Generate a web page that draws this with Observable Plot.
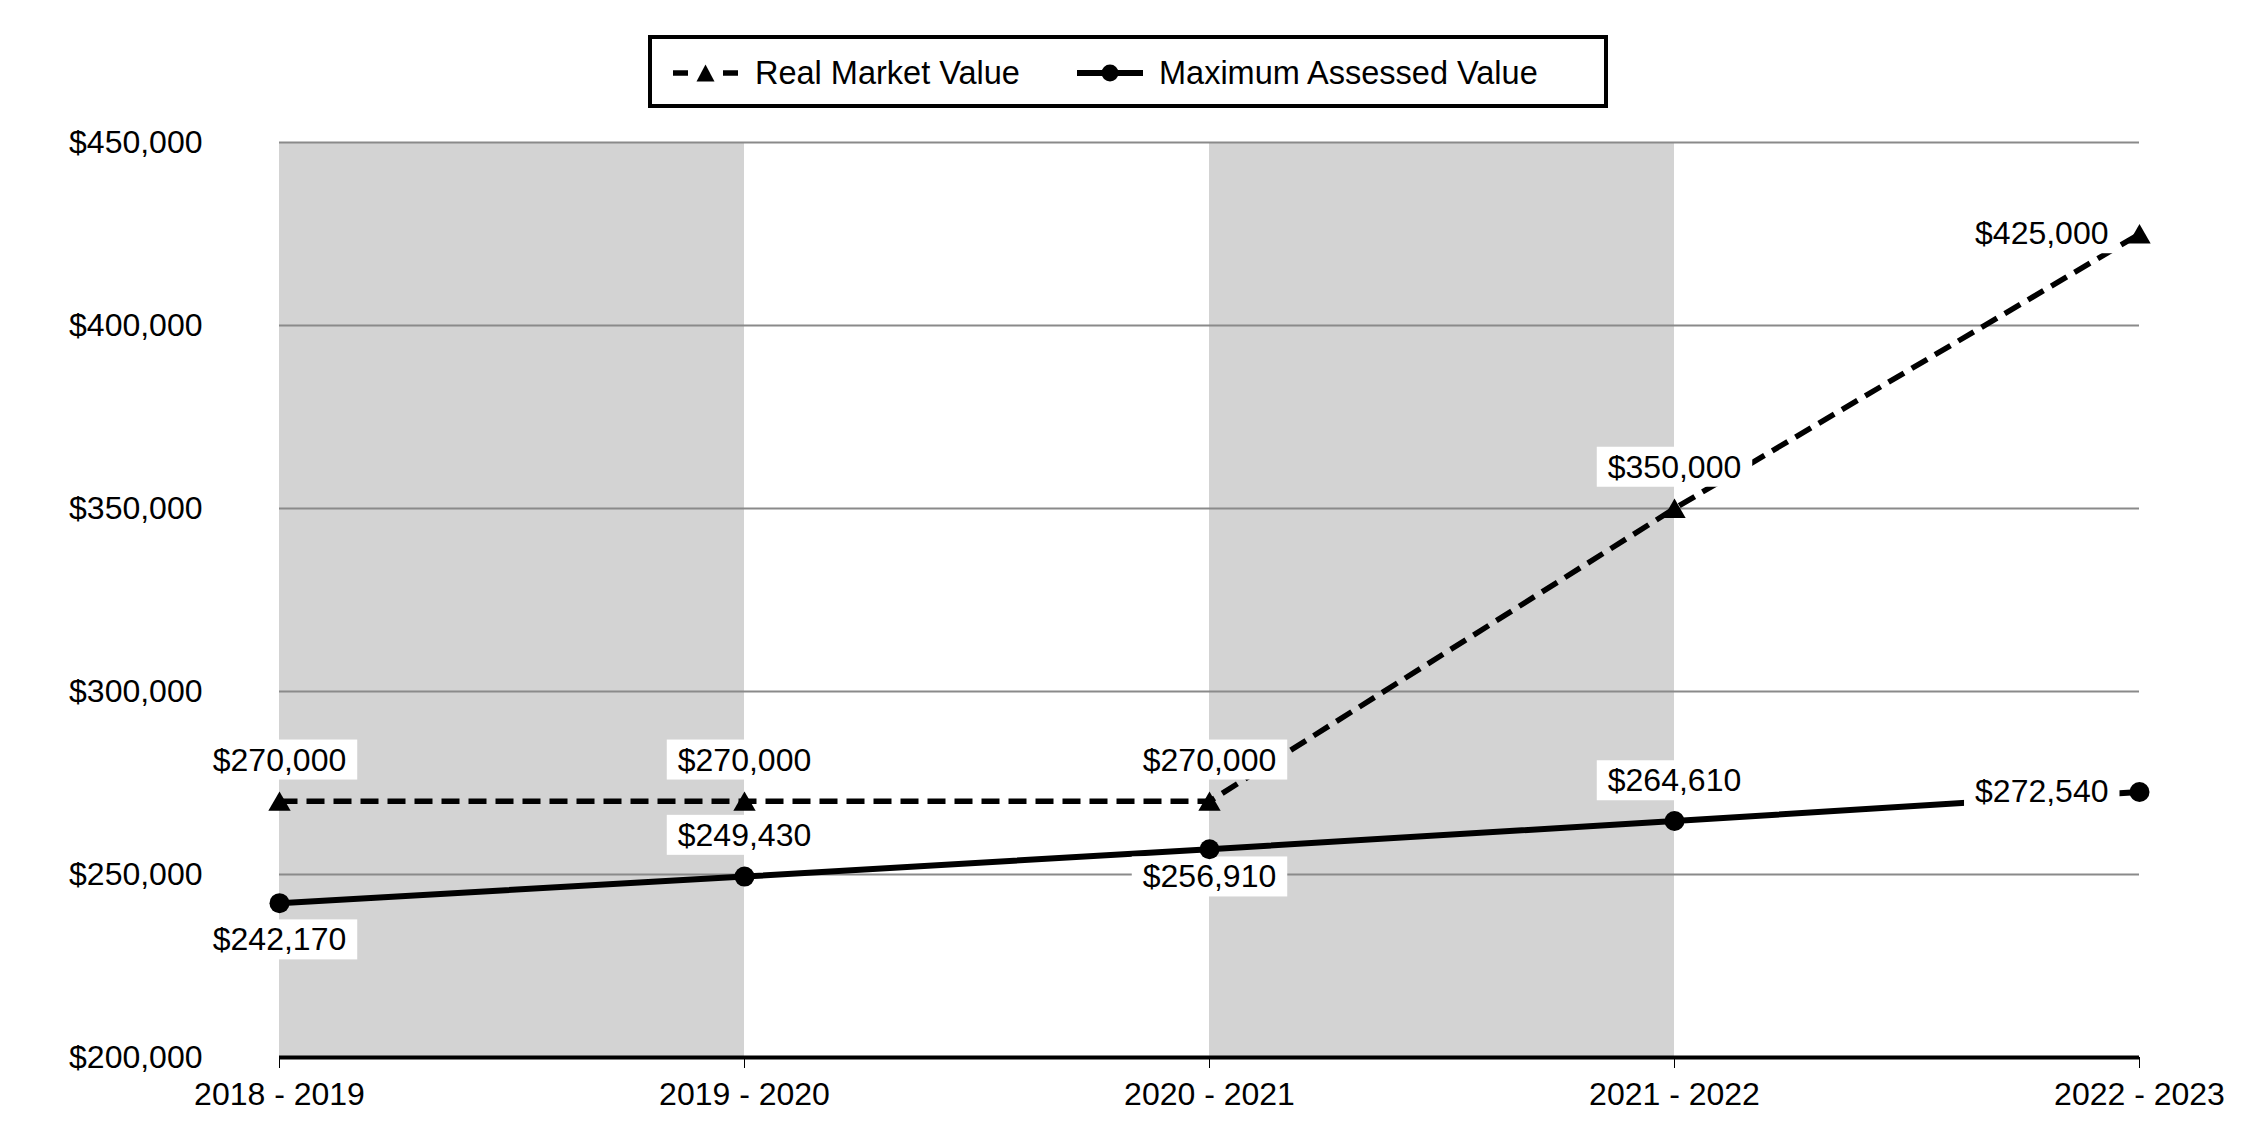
<!DOCTYPE html>
<html>
<head>
<meta charset="utf-8">
<script src="https://cdn.jsdelivr.net/npm/d3@7"></script>
<script src="https://cdn.jsdelivr.net/npm/@observablehq/plot@0.6"></script>
<style>
  html, body { margin: 0; padding: 0; background: #fff; }
  body { width: 2250px; height: 1140px; position: relative; overflow: hidden; font-family: "Liberation Sans", Arial, sans-serif; }
  #legendArea { position: relative; width: 2250px; height: 115px; }
  #legend { position: absolute; left: 648px; top: 35px; width: 960px; height: 73px; box-sizing: border-box; border: 4px solid #000; background: #fff; }
  #legend svg { position: absolute; top: 24px; }
  #legend span { position: absolute; top: 14px; font-size: 32.5px; line-height: 40px; color: #000; white-space: nowrap; }
  #chart { position: relative; width: 2250px; }
</style>
</head>
<body>
<div id="legendArea"><div id="legend"></div></div>
<div id="chart"></div>
<script>
// ---- data ----
const years = ["2018 - 2019", "2019 - 2020", "2020 - 2021", "2021 - 2022", "2022 - 2023"];
const realMarketValue = [270000, 270000, 270000, 350000, 425000];
const maxAssessedValue = [242170, 249430, 256910, 264610, 272540];
const seriesNames = ["Real Market Value", "Maximum Assessed Value"];
const yTicks = [200000, 250000, 300000, 350000, 400000, 450000];
const shadedPeriods = [["2018 - 2019", "2019 - 2020"], ["2020 - 2021", "2021 - 2022"]];

const rmv = years.map((year, i) => ({year, value: realMarketValue[i], series: seriesNames[0]}));
const mav = years.map((year, i) => ({year, value: maxAssessedValue[i], series: seriesNames[1]}));
const fmt = d3.format("$,");

// ---- legend ----
const SVGNS = "http://www.w3.org/2000/svg";
const legend = document.getElementById("legend");
legend.innerHTML = `
  <svg width="66" height="20" style="left:21px">
    <line x1="0" x2="15" y1="10" y2="10" stroke="#000" stroke-width="5.5"/>
    <line x1="50" x2="65" y1="10" y2="10" stroke="#000" stroke-width="5.5"/>
    <path d="M32.5,1.5 L41.5,18.5 L23.5,18.5 Z" fill="#000"/>
  </svg>
  <span style="left:103px">${seriesNames[0]}</span>
  <svg width="66" height="20" style="left:425px">
    <line x1="0" x2="66" y1="10" y2="10" stroke="#000" stroke-width="6"/>
    <circle cx="33" cy="10" r="8.5" fill="#000"/>
  </svg>
  <span style="left:507px">${seriesNames[1]}</span>`;

// ---- label placement (layout, not data) ----
const rmvLabelPlacement = [{dy: -41}, {dy: -41}, {dy: -41}, {dy: -41}, {dx: -31, anchor: "end"}];
const mavLabelPlacement = [{dy: 37}, {dy: -41}, {dy: 28}, {dy: -40}, {dx: -31, anchor: "end"}];

function labelMarks(data, placement) {
  return data.map((d, i) => Plot.text([d], {
    x: "year", y: "value", text: (e) => fmt(e.value),
    dx: placement[i].dx || 0, dy: placement[i].dy || 0,
    textAnchor: placement[i].anchor || "middle",
    fill: "#000", fontSize: 32,
    ariaDescription: "value-label"
  }));
}

const plot = Plot.plot({
  width: 2250,
  height: 1025,
  marginTop: 27,
  marginBottom: 83,
  marginLeft: 279,
  marginRight: 111,
  style: {fontFamily: "'Liberation Sans', Arial, sans-serif", fontSize: "32px", color: "#000", background: "#fff", overflow: "visible"},
  x: {type: "point", domain: years, padding: 0, tickSize: 11, tickPadding: 14, label: null},
  y: {domain: [yTicks[0], yTicks[yTicks.length - 1]], ticks: yTicks, tickFormat: fmt, tickSize: 0, tickPadding: 77, label: null},
  marks: [
    Plot.rect(shadedPeriods, {x1: (d) => d[0], x2: (d) => d[1], y1: () => yTicks[0], y2: () => yTicks[yTicks.length - 1], fill: "#d3d3d3"}),
    Plot.ruleY(yTicks.slice(1), {stroke: "#8a8a8a", strokeWidth: 2}),
    Plot.ruleY([yTicks[0]], {stroke: "#000", strokeWidth: 4}),
    Plot.line(mav, {x: "year", y: "value", stroke: "#000", strokeWidth: 6, strokeLinecap: "butt"}),
    Plot.line(rmv, {x: "year", y: "value", stroke: "#000", strokeWidth: 5.5, strokeDasharray: "18,9", strokeLinecap: "butt"}),
    ...labelMarks(rmv, rmvLabelPlacement),
    ...labelMarks(mav, mavLabelPlacement),
    Plot.dot(rmv, {x: "year", y: "value", symbol: "triangle", r: 8.3, fill: "#000", dy: 3}),
    Plot.dot(mav, {x: "year", y: "value", r: 10, fill: "#000"})
  ]
});

document.getElementById("chart").append(plot);

// white boxes behind the value labels
plot.querySelectorAll('g[aria-description="value-label"]').forEach((g) => {
  g.querySelectorAll("text").forEach((t) => {
    const b = t.getBBox();
    const r = document.createElementNS(SVGNS, "rect");
    r.setAttribute("x", b.x - 11);
    r.setAttribute("y", b.y - 2);
    r.setAttribute("width", b.width + 22);
    r.setAttribute("height", b.height + 4);
    r.setAttribute("fill", "#fff");
    r.setAttribute("stroke", "none");
    const tr = t.getAttribute("transform");
    if (tr) r.setAttribute("transform", tr);
    g.insertBefore(r, t);
  });
});
</script>
</body>
</html>
